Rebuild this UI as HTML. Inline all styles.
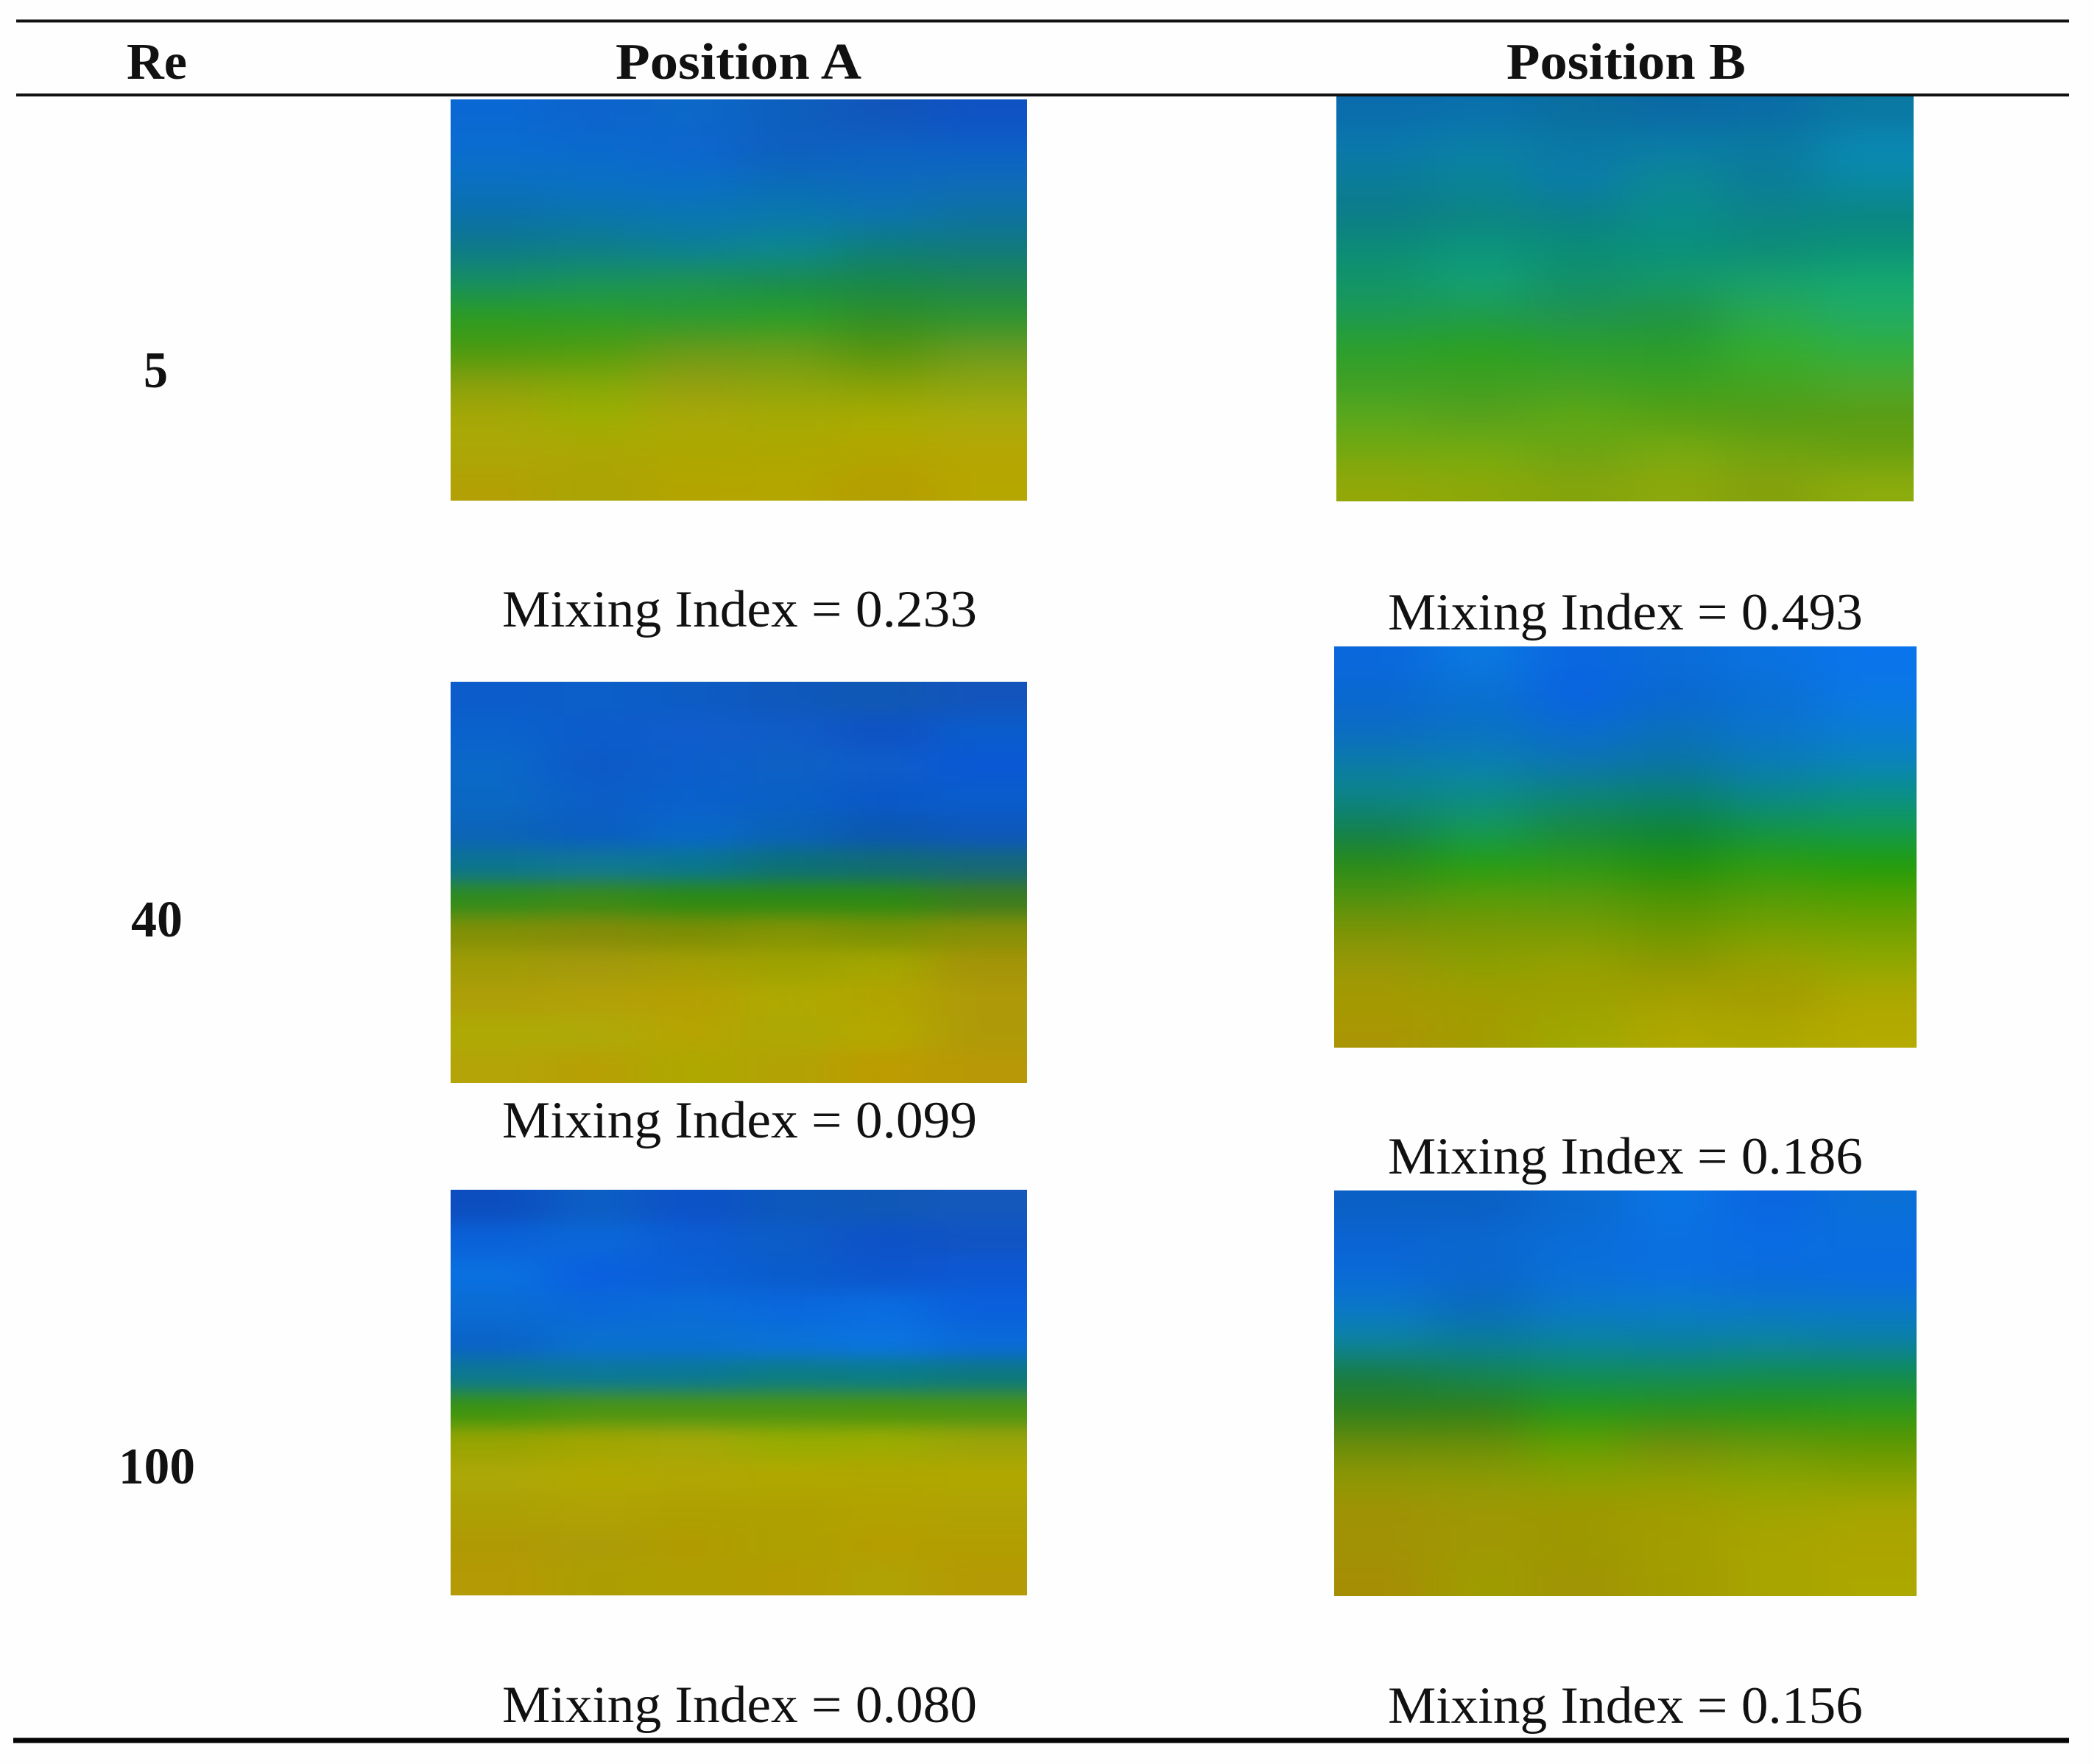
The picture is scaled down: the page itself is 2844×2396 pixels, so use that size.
<!DOCTYPE html>
<html lang="en">
<head>
<meta charset="utf-8">
<title>Mixing index table</title>
<style>
html,body{margin:0;padding:0;background:#fff;}
svg{display:block;}
text{font-family:"Liberation Serif","DejaVu Serif",serif;fill:#111;}
.head{font-weight:700;font-size:70px;}
.re{font-weight:700;font-size:70px;}
.mix{font-size:71px;}
</style>
</head>
<body>
<svg id="chart" xmlns="http://www.w3.org/2000/svg" width="2844" height="2396" viewBox="0 0 2844 2396">
  <defs>
    <filter id="soft" filterUnits="userSpaceOnUse" x="400" y="-100" width="2444" height="2596" color-interpolation-filters="sRGB">
      <feGaussianBlur stdDeviation="38 21"/>
    </filter>
    <filter id="softSharp" filterUnits="userSpaceOnUse" x="400" y="-100" width="2444" height="2596" color-interpolation-filters="sRGB">
      <feGaussianBlur stdDeviation="38 13"/>
    </filter>
  </defs>
  <rect x="0" y="0" width="2844" height="2396" fill="#fefefe"/>
  <g id="panels"></g>

  <rect x="22" y="26.5" width="2788" height="4" fill="#111"/>
  <rect x="22" y="127" width="2788" height="4" fill="#111"/>
  <rect x="18" y="2360.5" width="2792" height="7" fill="#050505"/>

  <text class="head" x="172" y="107" textLength="82" lengthAdjust="spacingAndGlyphs">Re</text>
  <text class="head" x="836" y="107" textLength="334" lengthAdjust="spacingAndGlyphs">Position A</text>
  <text class="head" x="2046" y="107" textLength="325" lengthAdjust="spacingAndGlyphs">Position B</text>

  <text class="re" x="195" y="526" textLength="33" lengthAdjust="spacingAndGlyphs">5</text>
  <text class="re" x="178" y="1272" textLength="70" lengthAdjust="spacingAndGlyphs">40</text>
  <text class="re" x="161" y="2015" textLength="104" lengthAdjust="spacingAndGlyphs">100</text>

  <text class="mix" x="682" y="851" textLength="645" lengthAdjust="spacingAndGlyphs">Mixing Index = 0.233</text>
  <text class="mix" x="682" y="1545" textLength="645" lengthAdjust="spacingAndGlyphs">Mixing Index = 0.099</text>
  <text class="mix" x="682" y="2339" textLength="645" lengthAdjust="spacingAndGlyphs">Mixing Index = 0.080</text>
  <text class="mix" x="1885" y="855" textLength="645" lengthAdjust="spacingAndGlyphs">Mixing Index = 0.493</text>
  <text class="mix" x="1885" y="1594" textLength="645" lengthAdjust="spacingAndGlyphs">Mixing Index = 0.186</text>
  <text class="mix" x="1885" y="2340" textLength="645" lengthAdjust="spacingAndGlyphs">Mixing Index = 0.156</text>
</svg>
<script>
const cellsRe5A = [
"0a68d4 0c64cc 0c68c8 0d5fbe 1155ba 0f52c4",
"0a6dcf 0a6acd 0d66cf 0e5fc0 0d62c4 0c60c6",
"0a70c0 0a70c4 0a6ec6 0a6cb8 0c6abc 0e6cb8",
"0b70a8 0a75ab 0a76b2 0a78ac 0c74ae 0d729f",
"0e7a88 0e7e88 0c8094 0c8890 0e7e78 107a7c",
"169060 199458 1d9450 1a8c4c 18884a 1e8650",
"2c9c20 2c9c28 2a9a30 2a9e28 2f8e28 2c9430",
"4a9a10 509c10 6a9a18 6a9c18 549410 6a9a20",
"8aa00c 84a808 929f10 8ca40c 86a008 8ca410",
"a6a806 9cb000 aaa808 a6aa04 a8ac00 a8ac0c",
"aca808 aca604 aca800 aca800 b2a600 b6a604",
"b2a004 aaa404 b4a400 b4a600 b49e00 b6a600"];
const cellsRe5B = [
"0a6cac 0a70ac 0a6ea0 0a6aa4 0a6ca6 0a78a2",
"0a78ac 0a80a8 0a78a4 0a7ca8 0a7aa0 0a88b4",
"0a7c98 0a8498 0a7caa 0c8894 0a7c98 0a8aa4",
"0c7c88 0c8484 0c808a 0a8c8c 0c8488 0a8684",
"0c8c78 0c947c 0a8c78 0a907c 0c8c78 0c9278",
"129468 14a074 129068 149868 18a06c 14a870",
"1c9a50 1f9c4c 209450 209444 28a850 22ac64",
"2ca02c 2ba020 2c9e2c 2a9c2c 34ac30 30ae40",
"40a024 40a020 44a024 3ca020 44a420 4ca82c",
"5aa81c 58a01c 5ea814 58a014 559c16 5a9c14",
"74a810 74ac10 6ca414 78aa10 70a410 68a010",
"92a808 8ca808 84a40c 8ca80c 84a00c 8cac0c"];
const cellsRe40A = [
"0c5ccc 0c5ec8 0c5cc4 0f58bc 1058b4 1254bc",
"0a62cc 0c5ccc 105ccc 0f5cc6 0f52c4 0a5ccc",
"0a68c8 0c5ac8 0c5ecc 0e60c4 0e5cca 0a58d4",
"0a68c4 0c5ec6 0a60cc 0a60c4 0a58c8 0a5ccc",
"0c64b8 0a5ec0 0868c8 0a62b8 0a58b0 0c58bc",
"0c7490 107894 0a7690 0c7078 106c74 166878",
"308c1c 3a8a18 2c8a14 2c8a14 2c8a14 3a7c20",
"829006 848c08 7c8e04 849404 7a9204 869006",
"a09c06 a49a0c a49e04 9ea200 a4a600 a49408",
"ae9f08 b2a008 b4a002 aeaa02 b2a400 ae9a08",
"aeaa04 aeaa08 b6a402 aca804 b4a800 ae9a08",
"b4a408 b6a004 aea800 b2a204 bc9c00 b89806"];
const cellsRe40B = [
"0a68dc 0a78e0 0a66e0 0a6cd8 0a72e0 0a74ec",
"0a68d0 0a70d0 0a64e0 0a68d0 0a70d4 0a78e4",
"0c6cc4 0a72c4 0a6cce 0a70bc 0a74cc 0a7cd4",
"0a7ca8 0a80b0 0c74b0 0a74a4 0a7cb4 0a84b8",
"0c8488 0c8c88 0c8478 0a8070 0a8888 0a9084",
"128050 149858 188a40 0e8438 129448 129a50",
"288c18 249e14 2c9818 209010 2c9c10 209c0c",
"509210 589c08 589a0c 4c9404 549c08 50a000",
"7c9404 7a9804 789c04 6e9800 78a000 74a200",
"989808 8ca000 96a000 8c9800 98a000 92a800",
"a49a00 a09c00 9ca000 a4a000 a49c00 aca800",
"aa9604 a29c00 a0a800 aea800 aca800 b4aa00"];
const cellsRe100A = [
"0c4ec0 0c5ec4 0c52c8 0c58bc 1058b8 1458bc",
"0a62d8 0a68d8 0c5cd4 0c5cc8 0e52c8 1054c4",
"0a70e0 0a60e0 0a60d4 0a5ccc 0c56cc 0c58d4",
"0a6cd4 0a68d8 0a6cd8 0a68dc 0a6ce0 0a60dc",
"0a64c8 0a70d0 0a70d0 0a72d8 0a74e0 0a6ad8",
"0c7890 0c7898 0a7894 0c7c84 0a7c88 0c7880",
"3c9410 4a9414 4a9414 4a9414 4a9410 4a9414",
"98a400 a2a600 a4a808 98ac00 9cac00 9ca408",
"aca808 b0a800 b0a604 b0a800 b0a600 b0a800",
"aca004 b0a204 aea000 aea000 b2a200 b0a204",
"b09a04 ac9c08 b09c00 aea000 b49e00 b29e00",
"b49a04 ac9e02 ae9e02 b29c02 b0a204 b49a04"];
const cellsRe100B = [
"0a60c4 0a60c4 0a6ad0 0a74e4 0a66e0 0a70d8",
"0a64d4 0a68d0 0a6cd8 0a70e0 0a6ce4 0a6ede",
"0a6ad8 0a66cc 0a70d8 0a70e0 0a6cdc 0a6ce0",
"0a78c8 0a6cbc 0a78c8 0a7cc8 0a78c8 0a78c8",
"0c84a0 0a7c98 0a84a0 0a80a4 0c84a0 0a80a4",
"187c40 148450 108c58 128c58 128c50 108c4c",
"2e801c 308018 269818 2a9218 2a9414 2e9818",
"6a8c0a 6a8e08 62a000 708e0c 68980a 5e9800",
"8e9804 8c9a04 88a000 8ca000 88a400 86a000",
"a09204 9e9804 9e9800 a09c00 a0a400 a6a600",
"a09204 a09804 9c9800 a29e00 a8a400 aca400",
"a68e04 9e9c00 a09404 a29c00 a8a400 aca800"];

const panelLayout = [
  { key: 're5-position-a', cells: cellsRe5A, x0: 612, x1: 1395, y0: 135, y1: 680, blur: 'soft' },
  { key: 're5-position-b', cells: cellsRe5B, x0: 1815, x1: 2599, y0: 130, y1: 681, blur: 'soft' },
  { key: 're40-position-a', cells: cellsRe40A, x0: 612, x1: 1395, y0: 926, y1: 1471, blur: 'softSharp' },
  { key: 're40-position-b', cells: cellsRe40B, x0: 1812, x1: 2603, y0: 878, y1: 1423, blur: 'soft' },
  { key: 're100-position-a', cells: cellsRe100A, x0: 612, x1: 1395, y0: 1616, y1: 2167, blur: 'softSharp' },
  { key: 're100-position-b', cells: cellsRe100B, x0: 1812, x1: 2603, y0: 1617, y1: 2168, blur: 'soft' }
];

const SVG_NS = 'http://www.w3.org/2000/svg';
const panelsRoot = document.getElementById('panels');
const BLEED = 120;

function xEdge(p, col, cols) {
  return p.x0 + (p.x1 - p.x0) * col / cols;
}
function yEdge(p, row, rows) {
  return p.y0 + (p.y1 - p.y0) * row / rows;
}

panelLayout.forEach(function (p, i) {
  const clip = document.createElementNS(SVG_NS, 'clipPath');
  clip.setAttribute('id', 'clip-' + i);
  const clipRect = document.createElementNS(SVG_NS, 'rect');
  clipRect.setAttribute('x', p.x0);
  clipRect.setAttribute('y', p.y0);
  clipRect.setAttribute('width', p.x1 - p.x0);
  clipRect.setAttribute('height', p.y1 - p.y0);
  clip.appendChild(clipRect);
  panelsRoot.appendChild(clip);

  const outer = document.createElementNS(SVG_NS, 'g');
  outer.setAttribute('clip-path', 'url(#clip-' + i + ')');
  
  
  const blurred = document.createElementNS(SVG_NS, 'g');
  blurred.setAttribute('filter', 'url(#' + p.blur + ')');

  const rows = p.cells.length;
  p.cells.forEach(function (line, r) {
    const vals = line.split(' ');
    const cols = vals.length;
    vals.forEach(function (hex, c) {
      let left = xEdge(p, c, cols);
      let right = xEdge(p, c + 1, cols);
      let top = yEdge(p, r, rows);
      let bottom = yEdge(p, r + 1, rows);
      if (c === 0) left -= BLEED;
      if (c === cols - 1) right += BLEED;
      if (r === 0) top -= BLEED;
      if (r === rows - 1) bottom += BLEED;
      const cell = document.createElementNS(SVG_NS, 'rect');
      cell.setAttribute('x', left);
      cell.setAttribute('y', top);
      cell.setAttribute('width', right - left + 1);
      cell.setAttribute('height', bottom - top + 1);
      cell.setAttribute('fill', '#' + hex);
      
      
      blurred.appendChild(cell);
    });
  });
  outer.appendChild(blurred);
  panelsRoot.appendChild(outer);
});
</script>
</body>
</html>
